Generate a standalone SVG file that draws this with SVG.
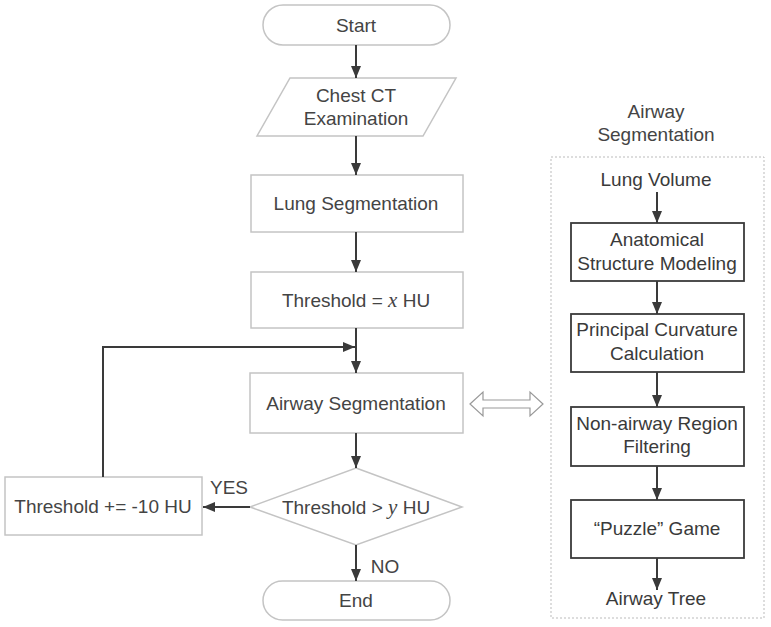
<svg xmlns="http://www.w3.org/2000/svg" width="771" height="627" viewBox="0 0 771 627">
<defs>
<style>
.n{fill:#fff;stroke:#c4c4c4;stroke-width:1.5}
.r{fill:#fff;stroke:#3a3a3a;stroke-width:1.8}
.t{font-family:"Liberation Sans",Arial,sans-serif;font-size:19px;fill:#444;text-anchor:middle}
.rt{font-family:"Liberation Sans",Arial,sans-serif;font-size:19px;fill:#3a3a3a;text-anchor:middle}
.v{font-family:"Liberation Serif","Times New Roman",serif;font-style:italic;font-size:21px}
.c{fill:none;stroke:#3a3a3a;stroke-width:2}
</style>
<marker id="ah" viewBox="0 0 12 10" refX="12" refY="5" markerWidth="12" markerHeight="10" markerUnits="userSpaceOnUse" orient="auto">
<path d="M0,0 L12,5 L0,10 z" fill="#3a3a3a"/>
</marker>
</defs>
<rect width="771" height="627" fill="#fff"/>

<g id="start"><rect class="n" x="263" y="5" width="187" height="40" rx="20"/><text class="t" x="356" y="32">Start</text></g>
<g id="chest"><polygon class="n" points="290,78 456,78 423,136 257,136"/><text class="t" x="356" y="102">Chest CT</text><text class="t" x="356" y="125">Examination</text></g>
<g id="lung"><rect class="n" x="251" y="175" width="212" height="57"/><text class="t" x="356" y="210">Lung Segmentation</text></g>
<g id="thresh"><rect class="n" x="251" y="272" width="212" height="56"/><text class="t" x="356" y="307">Threshold = <tspan class="v">x</tspan> HU</text></g>
<g id="airway"><rect class="n" x="250" y="373" width="213" height="60"/><text class="t" x="356" y="410">Airway Segmentation</text></g>
<g id="decision"><polygon class="n" points="356,468 462,507 356,545 250,507"/><text class="t" x="356" y="514">Threshold &gt; <tspan class="v">y</tspan> HU</text></g>
<g id="dec10"><rect class="n" x="5" y="477" width="197" height="58"/><text class="t" x="103" y="513">Threshold += -10 HU</text></g>
<g id="end"><rect class="n" x="263" y="581" width="187" height="39" rx="19.5"/><text class="t" x="356" y="607">End</text></g>

<g id="panel">
<text class="t" x="656" y="118">Airway</text>
<text class="t" x="656" y="141">Segmentation</text>
<rect x="551" y="157" width="213" height="461" fill="none" stroke="#bbb" stroke-width="1" stroke-dasharray="2,2"/>
</g>
<g id="lungvol"><text class="rt" x="656" y="186">Lung Volume</text></g>
<g id="anat"><rect class="r" x="571" y="223" width="173" height="58"/><text class="rt" x="657" y="246">Anatomical</text><text class="rt" x="657" y="270">Structure Modeling</text></g>
<g id="princ"><rect class="r" x="571" y="314" width="173" height="58"/><text class="rt" x="657" y="336">Principal Curvature</text><text class="rt" x="657" y="360">Calculation</text></g>
<g id="nonair"><rect class="r" x="571" y="407" width="173" height="59"/><text class="rt" x="657" y="430">Non-airway Region</text><text class="rt" x="657" y="453">Filtering</text></g>
<g id="puzzle"><rect class="r" x="571" y="500" width="173" height="58"/><text class="rt" x="657" y="535">“Puzzle” Game</text></g>
<g id="tree"><text class="rt" x="656" y="605">Airway Tree</text></g>

<g id="connectors">
<line class="c" x1="356" y1="45" x2="356" y2="78" marker-end="url(#ah)"/>
<line class="c" x1="356" y1="136" x2="356" y2="175" marker-end="url(#ah)"/>
<line class="c" x1="356" y1="232" x2="356" y2="272" marker-end="url(#ah)"/>
<line class="c" x1="356" y1="328" x2="356" y2="373" marker-end="url(#ah)"/>
<polyline class="c" points="103,477 103,347 355,347" marker-end="url(#ah)"/>
<line class="c" x1="356" y1="433" x2="356" y2="468" marker-end="url(#ah)"/>
<line class="c" x1="250" y1="507" x2="203" y2="507" marker-end="url(#ah)"/>
<line class="c" x1="356" y1="545" x2="356" y2="581" marker-end="url(#ah)"/>
<text class="t" x="229" y="494">YES</text>
<text class="t" x="385" y="573">NO</text>
<polygon points="470,404 483,392 483,400 530,400 530,392 543,404 530,416 530,408 483,408 483,416" fill="#fff" stroke="#999" stroke-width="1.2"/>
<line class="c" x1="657" y1="192" x2="657" y2="223" marker-end="url(#ah)"/>
<line class="c" x1="657" y1="281" x2="657" y2="314" marker-end="url(#ah)"/>
<line class="c" x1="657" y1="372" x2="657" y2="407" marker-end="url(#ah)"/>
<line class="c" x1="657" y1="466" x2="657" y2="500" marker-end="url(#ah)"/>
<line class="c" x1="657" y1="558" x2="657" y2="590" marker-end="url(#ah)"/>
</g>
</svg>
